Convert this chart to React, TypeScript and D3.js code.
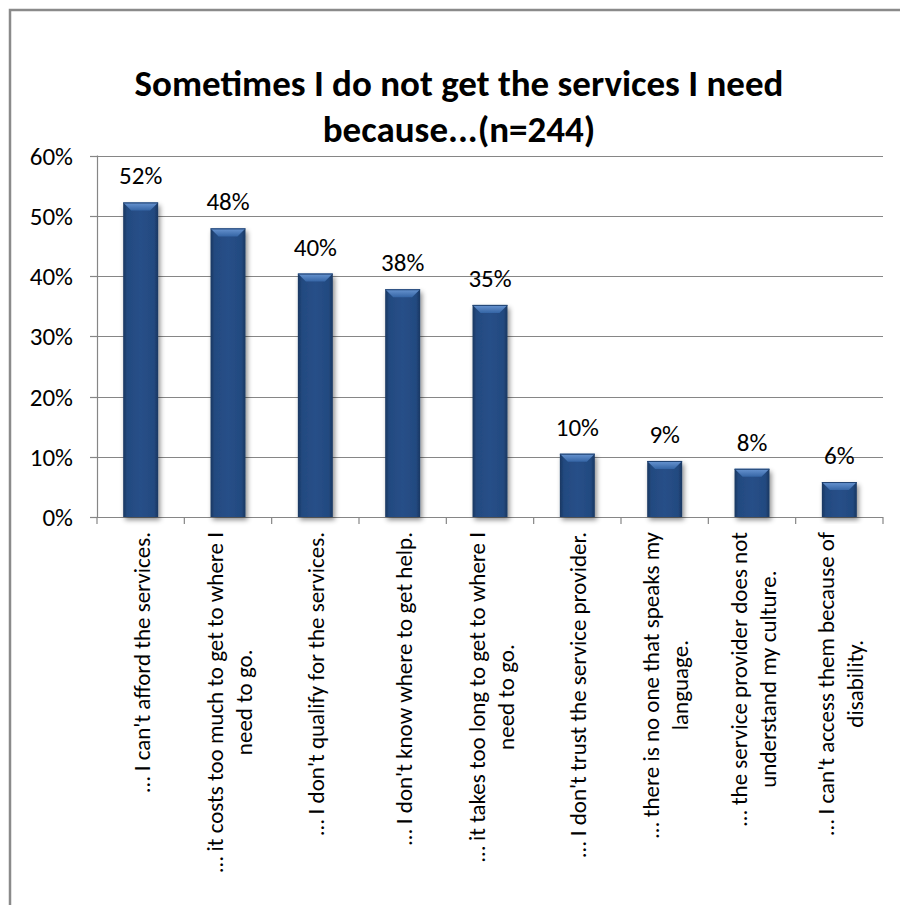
import React, { useEffect, useRef } from "react";
import * as d3 from "d3";

const W = 900;
const H = 905;
const FONT = "Carlito, Calibri, Lato, sans-serif";

const titleLines = ["Sometimes I do not get the services I need", "because...(n=244)"];

const categories: string[][] = [
  ["\u2026 I can't afford the services."],
  ["\u2026 it costs too much to get to where I", "need to go."],
  ["\u2026 I don't qualify for the services."],
  ["\u2026 I don't know where to get help."],
  ["\u2026 it takes too long to get to where I", "need to go."],
  ["\u2026 I don't trust the service provider."],
  ["\u2026 there is no one that speaks my", "language."],
  ["\u2026 the service provider does not", "understand my culture."],
  ["\u2026 I can't access them because of", "disability."],
];

const values = [52.2, 47.9, 40.4, 37.8, 35.2, 10.5, 9.3, 8.0, 5.8];
const valueLabels = ["52%", "48%", "40%", "38%", "35%", "10%", "9%", "8%", "6%"];
const yTicks = [0, 10, 20, 30, 40, 50, 60];
const yTickLabels = ["0%", "10%", "20%", "30%", "40%", "50%", "60%"];

export default function App() {
  const ref = useRef<SVGSVGElement>(null);

  useEffect(() => {
    const svg = d3.select(ref.current);
    svg.selectAll("*").remove();

    const left = 97;
    const right = 883;
    const top = 155.5;
    const bottom = 517;

    const x = d3
      .scaleBand<number>()
      .domain(d3.range(values.length))
      .range([left, right])
      .paddingInner(0.6)
      .paddingOuter(0.3);
    const step = (right - left) / values.length;
    const y = d3.scaleLinear().domain([0, 60]).range([bottom, top]);

    const defs = svg.append("defs");
    const body = defs.append("linearGradient").attr("id", "barBody").attr("x1", 0).attr("x2", 1).attr("y1", 0).attr("y2", 0);
    body.append("stop").attr("offset", "0").attr("stop-color", "#193761");
    body.append("stop").attr("offset", "0.12").attr("stop-color", "#234a80");
    body.append("stop").attr("offset", "0.5").attr("stop-color", "#274f88");
    body.append("stop").attr("offset", "0.88").attr("stop-color", "#234a80");
    body.append("stop").attr("offset", "1").attr("stop-color", "#193761");

    const topG = defs.append("linearGradient").attr("id", "barTop").attr("x1", 0).attr("x2", 0).attr("y1", 0).attr("y2", 1);
    topG.append("stop").attr("offset", "0").attr("stop-color", "#6a96d2");
    topG.append("stop").attr("offset", "1").attr("stop-color", "#3565a5");

    const filt = defs.append("filter").attr("id", "shadow").attr("x", "-30%").attr("y", "-10%").attr("width", "160%").attr("height", "130%");
    filt.append("feDropShadow").attr("dx", 2).attr("dy", 3).attr("stdDeviation", 2.4).attr("flood-color", "#000").attr("flood-opacity", 0.45);

    // outer border
    svg.append("rect").attr("x", 10).attr("y", 10).attr("width", 900).attr("height", 905)
      .attr("fill", "#fff").attr("stroke", "#8a8a8a").attr("stroke-width", 2.5);

    // title
    const title = svg.append("g");
    titleLines.forEach((t, i) => {
      title.append("text").attr("x", 459).attr("y", 96 + i * 46)
        .attr("text-anchor", "middle").attr("font-family", FONT).attr("font-weight", "bold")
        .attr("font-size", 37).attr("fill", "#000").text(t);
    });

    // gridlines
    svg.append("g").selectAll("line").data(yTicks.filter((d) => d > 0)).join("line")
      .attr("x1", left).attr("x2", right)
      .attr("y1", (d) => Math.round(y(d)) + 0.5).attr("y2", (d) => Math.round(y(d)) + 0.5)
      .attr("stroke", "#868686").attr("stroke-width", 1.2);

    // y axis
    svg.append("line").attr("x1", left + 0.5).attr("x2", left + 0.5).attr("y1", y(60)).attr("y2", bottom + 0.5)
      .attr("stroke", "#868686").attr("stroke-width", 1.2);
    svg.append("g").selectAll("line").data(yTicks).join("line")
      .attr("x1", left - 7).attr("x2", left)
      .attr("y1", (d) => Math.round(y(d)) + 0.5).attr("y2", (d) => Math.round(y(d)) + 0.5)
      .attr("stroke", "#868686").attr("stroke-width", 1.2);
    svg.append("g").selectAll("text").data(yTicks).join("text")
      .attr("x", 73).attr("y", (d) => y(d)).attr("dy", "0.36em")
      .attr("text-anchor", "end").attr("font-family", FONT).attr("font-size", 25).attr("fill", "#000")
      .text((d, i) => yTickLabels[i]);

    // x axis
    svg.append("line").attr("x1", left).attr("x2", right).attr("y1", bottom + 0.5).attr("y2", bottom + 0.5)
      .attr("stroke", "#868686").attr("stroke-width", 1.2);
    svg.append("g").selectAll("line").data(d3.range(values.length + 1)).join("line")
      .attr("x1", (d) => left + d * step).attr("x2", (d) => left + d * step)
      .attr("y1", bottom).attr("y2", bottom + 7)
      .attr("stroke", "#868686").attr("stroke-width", 1.2);

    // bars
    const bw = x.bandwidth();
    const bars = svg.append("g").selectAll("g").data(values).join("g");
    bars.each(function (v, i) {
      const g = d3.select(this);
      const bx = x(i)!;
      const by = y(v);
      const bh = bottom - by;
      const b = Math.min(8, bh / 2);
      g.append("rect").attr("x", bx).attr("y", by).attr("width", bw).attr("height", bh)
        .attr("fill", "url(#barBody)").attr("filter", "url(#shadow)");
      g.append("polygon")
        .attr("points", [[bx, by], [bx + bw, by], [bx + bw - b, by + b], [bx + b, by + b]].map((p) => p.join(",")).join(" "))
        .attr("fill", "url(#barTop)");
      g.append("line").attr("x1", bx).attr("x2", bx + bw).attr("y1", by + 0.5).attr("y2", by + 0.5)
        .attr("stroke", "#1f4170").attr("stroke-width", 1);
    });

    // value labels
    svg.append("g").selectAll("text").data(values).join("text")
      .attr("x", (d, i) => x(i)! + bw / 2).attr("y", (d) => y(d) - 18)
      .attr("text-anchor", "middle").attr("font-family", FONT).attr("font-size", 25).attr("fill", "#000")
      .text((d, i) => valueLabels[i]);

    // category labels
    const catG = svg.append("g");
    categories.forEach((lines, i) => {
      const cx = x(i)! + bw / 2;
      const g = catG.append("g").attr("transform", `translate(${cx},532) rotate(-90)`);
      const texts = lines.map((t) =>
        g.append("text").attr("font-family", FONT).attr("font-size", 23).attr("fill", "#000").attr("text-anchor", "middle").text(t)
      );
      const widths = texts.map((t) => (t.node() as SVGTextElement).getComputedTextLength());
      const B = Math.max(...widths);
      const n = lines.length;
      texts.forEach((t, j) => {
        t.attr("x", -B / 2).attr("y", 9 + (j - (n - 1) / 2) * 29);
      });
    });
  }, []);

  return (
    <svg
      ref={ref}
      width={W}
      height={H}
      style={{ position: "absolute", left: 0, top: 0, background: "#fff" }}
    />
  );
}
